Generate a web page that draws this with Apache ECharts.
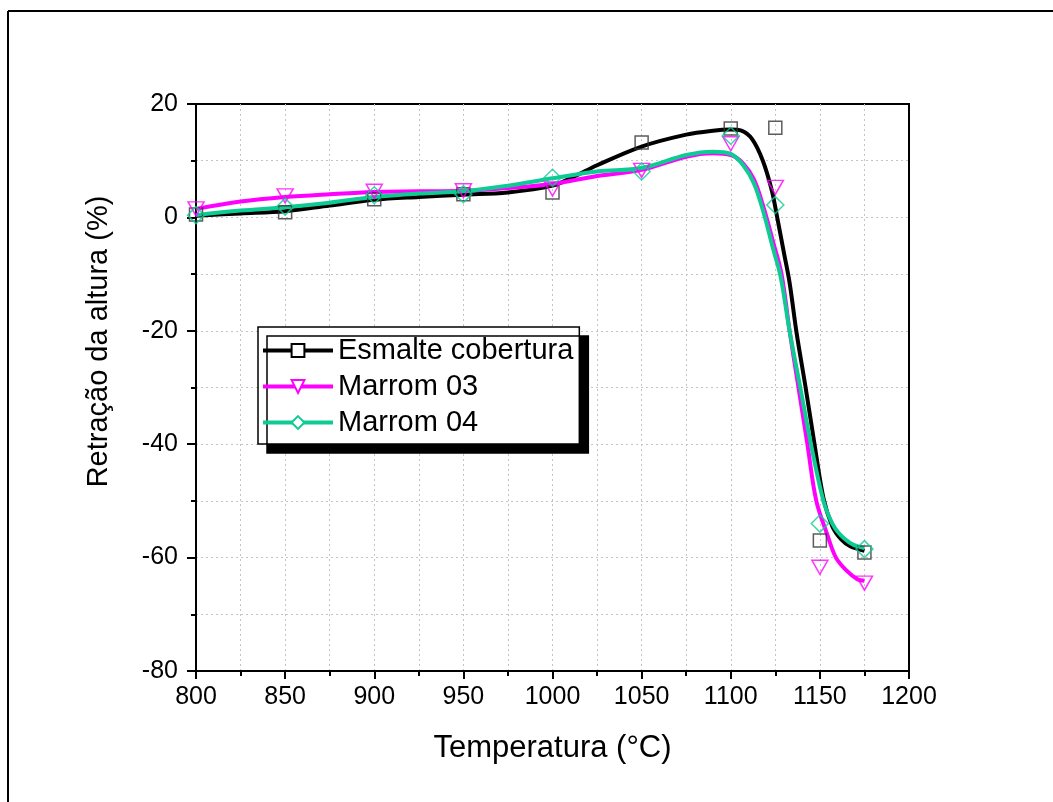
<!DOCTYPE html>
<html>
<head>
<meta charset="utf-8">
<script src="https://cdn.jsdelivr.net/npm/echarts@6/dist/echarts.min.js"></script>
<style>
html,body{margin:0;padding:0;background:#fff;}
#chart{width:1053px;height:802px;}
</style>
</head>
<body>
<div id="chart"></div>
<script>
// ---- data ----
const seriesNames = ['Esmalte cobertura', 'Marrom 03', 'Marrom 04'];
const xTicks = [800, 850, 900, 950, 1000, 1050, 1100, 1150, 1200];
const yTicks = [-80, -60, -40, -20, 0, 20];

// measured points
const temps = [800, 850, 900, 950, 1000, 1050, 1100, 1125, 1150, 1175];
const esmaltePts = [0.5, 0.9, 3.2, 4.1, 4.4, 13.2, 15.7, 15.8, -57.0, -59.1];
const marrom03Pts = [1.5, 3.8, 4.6, 4.7, 5.0, 8.3, 13.0, 5.3, -61.7, -64.5];
const marrom04Pts = [0.4, 1.9, 3.9, 4.1, 7.0, 8.1, 14.4, 2.2, -54.0, -58.5];

// fitted curves
const esmalteCurveT = [800, 825, 850, 875, 900, 925, 950, 975, 1000, 1012, 1025, 1050, 1075, 1090, 1100, 1106, 1112, 1118, 1123, 1126, 1130, 1133, 1137, 1142, 1147, 1152, 1157, 1162, 1167, 1175];
const esmalteCurveV = [0.3, 0.7, 1.1, 2.1, 3.1, 3.6, 4.0, 4.4, 5.6, 7.2, 9.2, 12.5, 14.6, 15.3, 15.5, 15.3, 13.8, 10.0, 4.8, 0.1, -6.5, -11.5, -20.5, -30, -40, -49.5, -54.5, -56.8, -58.0, -58.8];
const marrom03CurveT = [800, 825, 850, 875, 900, 925, 950, 975, 1000, 1025, 1050, 1075, 1090, 1100, 1107, 1113, 1118, 1124, 1128.5, 1133, 1138, 1143, 1148, 1154, 1159, 1165, 1171, 1175];
const marrom03CurveV = [1.5, 2.8, 3.6, 4.1, 4.5, 4.6, 4.7, 5.2, 5.9, 7.3, 8.4, 10.7, 11.3, 11.0, 9.5, 6.7, 2.2, -4.6, -10, -20, -30, -40, -50, -55.8, -60, -62.3, -63.8, -64.1];
const marrom04CurveT = [800, 825, 850, 875, 900, 925, 950, 975, 1000, 1025, 1050, 1075, 1090, 1100, 1107, 1113, 1118, 1124, 1128, 1133, 1139, 1145, 1152, 1157, 1161, 1168, 1175];
const marrom04CurveV = [0.4, 1.2, 1.8, 2.6, 3.6, 4.2, 4.6, 5.6, 6.9, 8.1, 8.7, 11.0, 11.6, 11.2, 9.2, 6.0, 1.3, -5.8, -10.5, -20, -30, -40, -50, -54, -55.8, -57.6, -58.3];

const colors = ['#000000', '#FF00FF', '#0ECB93'];
const markerStroke = ['#333333', '#FF00FF', '#0ECB93'];

function pairs(xs, ys) { return xs.map((x, i) => [x, ys[i]]); }

const curves = [
  pairs(esmalteCurveT, esmalteCurveV),
  pairs(marrom03CurveT, marrom03CurveV),
  pairs(marrom04CurveT, marrom04CurveV)
];
const points = [
  pairs(temps, esmaltePts),
  pairs(temps, marrom03Pts),
  pairs(temps, marrom04Pts)
];
const symbols = ['rect', 'triangle', 'diamond'];
const legendSymbols = ['emptyRect', 'emptyTriangle', 'emptyDiamond'];
const rotations = [0, 180, 0];
const sizes = [13, [16, 14], [17, 17]];

const FONT = '"Liberation Sans", Arial, sans-serif';

const series = [];
for (let i = 0; i < 3; i++) {
  series.push({
    name: seriesNames[i],
    type: 'line',
    data: curves[i],
    smooth: 0.35,
    showSymbol: false,
    symbol: legendSymbols[i],
    symbolRotate: rotations[i],
    color: colors[i],
    lineStyle: { color: colors[i], width: 4 },
    z: 3 + i,
    silent: true
  });
}
for (let i = 0; i < 3; i++) {
  series.push({
    name: seriesNames[i],
    type: 'scatter',
    data: points[i],
    symbol: symbols[i],
    symbolRotate: rotations[i],
    symbolSize: sizes[i],
    itemStyle: { color: 'rgba(255,255,255,0)', borderColor: markerStroke[i], borderWidth: 1.5 },
    z: 10 + i
  });
}

const gridLine = { show: true, showMinLine: false, showMaxLine: false, lineStyle: { color: '#c4c4c4', type: [2, 3], width: 1 } };

const chart = echarts.init(document.getElementById('chart'), null, { renderer: 'canvas' });
chart.setOption({
  animation: false,
  backgroundColor: '#ffffff',
  textStyle: { fontFamily: FONT },
  graphic: [
    { type: 'line', shape: { x1: 8, y1: 11, x2: 1053, y2: 11 }, style: { stroke: '#000', lineWidth: 2 } },
    { type: 'line', shape: { x1: 8, y1: 11, x2: 8, y2: 802 }, style: { stroke: '#000', lineWidth: 2 } }
  ],
  grid: {
    left: 196, right: 144, top: 104, bottom: 131,
    show: true, borderColor: '#000', borderWidth: 2, backgroundColor: 'transparent'
  },
  legend: {
    data: seriesNames,
    orient: 'vertical',
    left: 258, top: 327,
    padding: [9, 6, 7, 3],
    itemGap: 7,
    itemWidth: 70,
    itemHeight: 16,
    backgroundColor: '#fff',
    borderColor: '#000',
    borderWidth: 1.5,
    borderRadius: 0,
    shadowColor: '#000',
    shadowBlur: 0,
    shadowOffsetX: 9,
    shadowOffsetY: 9,
    lineStyle: { width: 4 },
    textStyle: { fontFamily: FONT, fontSize: 29, color: '#000', lineHeight: 29 },
    selectedMode: false
  },
  xAxis: {
    type: 'value',
    min: xTicks[0], max: xTicks[xTicks.length - 1], interval: 50,
    name: 'Temperatura (°C)',
    nameLocation: 'middle',
    nameGap: 62,
    nameTextStyle: { fontFamily: FONT, fontSize: 31, color: '#000' },
    axisLine: { show: true, onZero: false, lineStyle: { color: '#000', width: 2 } },
    axisTick: { show: true, inside: false, length: 8, lineStyle: { color: '#000', width: 2 } },
    minorTick: { show: true, splitNumber: 2, length: 5, lineStyle: { color: '#000', width: 2 } },
    axisLabel: { fontFamily: FONT, fontSize: 25, color: '#000', margin: 14, formatter: v => String(v) },
    splitLine: gridLine,
    minorSplitLine: { show: true, lineStyle: { color: '#c4c4c4', type: [2, 3], width: 1 } }
  },
  yAxis: {
    type: 'value',
    min: yTicks[0], max: yTicks[yTicks.length - 1], interval: 20,
    name: 'Retração da altura (%)',
    nameLocation: 'middle',
    nameGap: 83,
    nameTextStyle: { fontFamily: FONT, fontSize: 29, color: '#000', padding: [0, 0, 0, 92] },
    axisLine: { show: true, onZero: false, lineStyle: { color: '#000', width: 2 } },
    axisTick: { show: true, inside: false, length: 9, lineStyle: { color: '#000', width: 2 } },
    minorTick: { show: true, splitNumber: 2, length: 5, lineStyle: { color: '#000', width: 2 } },
    axisLabel: { fontFamily: FONT, fontSize: 25, color: '#000', margin: 18, formatter: v => String(v) },
    splitLine: gridLine,
    minorSplitLine: { show: true, lineStyle: { color: '#c4c4c4', type: [2, 3], width: 1 } }
  },
  series: series
});
</script>
</body>
</html>
